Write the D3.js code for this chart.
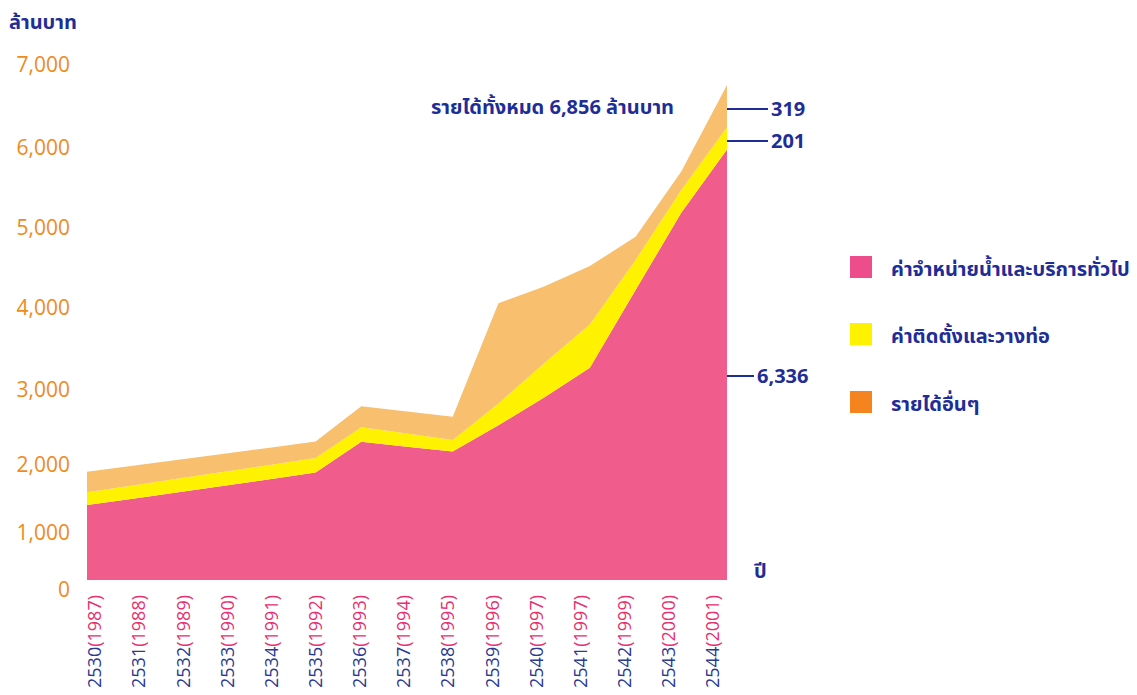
<!DOCTYPE html>
<html><head><meta charset="utf-8">
<script src="https://cdn.jsdelivr.net/npm/d3@7"></script>
<style>body{margin:0;background:#fff}</style>
</head><body><svg id="chart" width="1137" height="695"></svg>
<script>
// ---- data ----
const yearsBE = ["2530","2531","2532","2533","2534","2535","2536","2537","2538","2539","2540","2541","2542","2543","2544"];
const yearsCE = ["1987","1988","1989","1990","1991","1992","1993","1994","1995","1996","1997","1997","1999","2000","2001"];
const waterSales   = [1410,1505,1600,1695,1790,1890,2310,2245,2180,2530,2900,3270,4225,5190,5980];
const installation = [190,195,200,205,210,205,195,175,155,290,425,530,375,285,270];
const otherIncome  = [300,290,270,250,230,220,280,295,310,1240,945,725,290,230,510];
const yTicks = [0,1000,2000,3000,4000,5000,6000,7000];
const seriesNames = ["ค่าจำหน่ายน้ำและบริการทั่วไป","ค่าติดตั้งและวางท่อ","รายได้อื่นๆ"];
const annotations = ["319","201","6,336"];
const titleText = "รายได้ทั้งหมด 6,856 ล้านบาท";
const yUnit = "ล้านบาท";
const xUnit = "ปี";

// ---- styles ----
const areaColors = ["#F05C8C","#FFF200","#F7BF6E"];
const legendColors = ["#EE4D8B","#FFF200","#F5841F"];
const navy = "#1F2D96";
const orangeTxt = "#F08A1D";
const pinkTxt = "#E8306F";
const thaiFont = "'Noto Sans Thai','Noto Sans','Open Sans',sans-serif";
const numFont = "'Open Sans','Noto Sans',sans-serif";

const svg = d3.select("#chart");
const rows = yearsBE.map((y,i)=>({year:y, a:waterSales[i], b:installation[i], c:otherIncome[i]}));

const x = d3.scalePoint().domain(yearsBE).range([87,727]);
const xLab = d3.scalePoint().domain(yearsBE).range([95,713]);
const y = d3.scaleLinear().domain(yTicks).range([580,533,465,390,308,228,148,65]);

const stack = d3.stack().keys(["a","b","c"])(rows);
const area = d3.area().x(d=>x(d.data.year)).y0(d=>y(d[0])).y1(d=>y(d[1]));
svg.append("g").selectAll("path").data(stack).join("path")
  .attr("d",area).attr("fill",(d,i)=>areaColors[i]);

// y tick labels
svg.append("g").selectAll("text").data(yTicks).join("text")
  .attr("x",70).attr("y",d=>y(d)+(d===0?10:0)).attr("dy","0.35em")
  .attr("text-anchor","end").attr("font-family",numFont).attr("font-size",21)
  .attr("fill",orangeTxt).text(d=>d3.format(",")(d));

svg.append("text").attr("x",9).attr("y",29).attr("font-family",thaiFont)
  .attr("font-weight","bold").attr("font-size",20).attr("fill",navy).text(yUnit);

// x labels
const xl = svg.append("g").selectAll("text").data(yearsBE).join("text")
  .attr("transform",d=>`translate(${xLab(d)},595) rotate(-90)`)
  .attr("text-anchor","end").attr("dy","0.35em")
  .attr("font-family",numFont).attr("font-size",18);
xl.append("tspan").attr("fill","#2B3990").text(d=>d);
xl.append("tspan").attr("fill",pinkTxt).text((d,i)=>"("+yearsCE[i]+")");

svg.append("text").attr("x",754).attr("y",578).attr("font-family",thaiFont)
  .attr("font-weight","bold").attr("font-size",20).attr("fill",navy).text(xUnit);

// title
svg.append("text").attr("x",431).attr("y",114).attr("font-family",thaiFont)
  .attr("font-weight","bold").attr("font-size",20).attr("fill",navy).text(titleText);

// annotation pointers
const pointerY = [109,141,376];
const pointerEnd = [768,768,754];
const ag = svg.append("g");
annotations.forEach((t,i)=>{
  ag.append("line").attr("x1",x(yearsBE[yearsBE.length-1])).attr("x2",pointerEnd[i])
    .attr("y1",pointerY[i]).attr("y2",pointerY[i]).attr("stroke",navy).attr("stroke-width",2);
  ag.append("text").attr("x",pointerEnd[i]+3).attr("y",pointerY[i]).attr("dy","0.35em")
    .attr("font-family",numFont).attr("font-weight","bold").attr("font-size",20)
    .attr("fill",navy).text(t);
});

// legend
const lg = svg.append("g").attr("transform","translate(850,0)");
const legY = [267,334,402];
seriesNames.forEach((n,i)=>{
  lg.append("rect").attr("x",0).attr("y",legY[i]-11).attr("width",22).attr("height",22).attr("fill",legendColors[i]);
  lg.append("text").attr("x",41).attr("y",legY[i]+9).attr("font-family",thaiFont)
    .attr("font-weight","bold").attr("font-size",20).attr("fill",navy).text(n);
});
</script></body></html>
